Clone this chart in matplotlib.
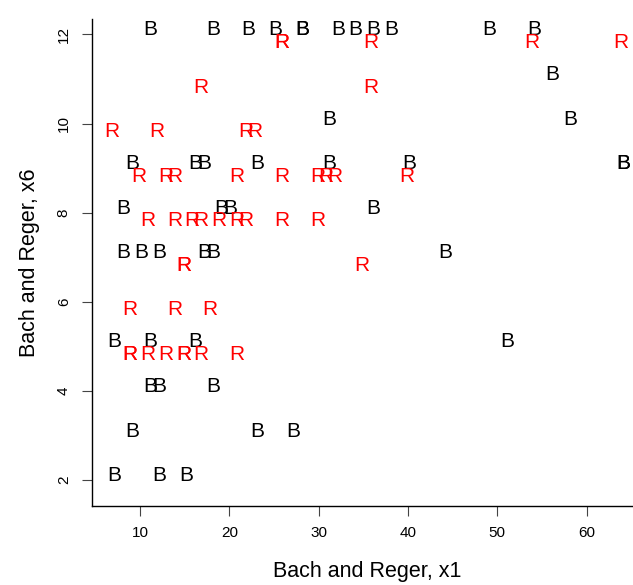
import matplotlib
matplotlib.use("Agg")
import matplotlib.pyplot as plt

# Bach pieces: x1 and x6 values
bach_x1 = [11, 18, 22, 25, 28, 28, 32, 34, 36, 38, 49, 54,
           56,
           31, 58,
           9, 16, 17, 23, 31, 40, 64, 64,
           8, 19, 20, 36,
           8, 10, 12, 17, 18, 44,
           7, 11, 16, 51,
           11, 12, 18,
           9, 23, 27,
           7, 12, 15]
bach_x6 = [12, 12, 12, 12, 12, 12, 12, 12, 12, 12, 12, 12,
           11,
           10, 10,
           9, 9, 9, 9, 9, 9, 9, 9,
           8, 8, 8, 8,
           7, 7, 7, 7, 7, 7,
           5, 5, 5, 5,
           4, 4, 4,
           3, 3, 3,
           2, 2, 2]

# Reger pieces: x1 and x6 values
reger_x1 = [26, 26, 36, 54, 64,
            17, 36,
            7, 12, 22, 23,
            10, 13, 14, 21, 26, 30, 31, 32, 40,
            11, 14, 16, 17, 19, 21, 22, 26, 30,
            15, 15, 35,
            9, 14, 18,
            9, 9, 11, 13, 15, 15, 17, 21]
reger_x6 = [12, 12, 12, 12, 12,
            11, 11,
            10, 10, 10, 10,
            9, 9, 9, 9, 9, 9, 9, 9, 9,
            8, 8, 8, 8, 8, 8, 8, 8, 8,
            7, 7, 7,
            6, 6, 6,
            5, 5, 5, 5, 5, 5, 5, 5]

x_ticks = [10, 20, 30, 40, 50, 60]
y_ticks = [2, 4, 6, 8, 10, 12]

plt.rcParams["font.family"] = ["Liberation Sans", "DejaVu Sans"]

W, H = 633, 585
fig = plt.figure(figsize=(W / 100, H / 100), dpi=100)
left, right, bottom, top = 91.7, 642.0, 505.5, 19.3
ax = fig.add_axes([left / W, 1 - bottom / H, (right - left) / W, (bottom - top) / H])

ax.set_xlim(4.59, 66.2)
ax.set_ylim(1.43, 12.34)

# Letters are nudged apart so the two groups stay readable where they coincide
for x, y in zip(bach_x1, bach_x6):
    ax.text(x + 0.15, y + 0.1, "B", color="black", fontsize=15,
            ha="center", va="center")
for x, y in zip(reger_x1, reger_x6):
    ax.text(x - 0.15, y - 0.18, "R", color="#ff0000", fontsize=15,
            ha="center", va="center")

for side in ("top", "right"):
    ax.spines[side].set_visible(False)
for side in ("left", "bottom"):
    ax.spines[side].set_linewidth(1.0)
    ax.spines[side].set_color("black")

ax.set_xticks(x_ticks)
ax.set_yticks(y_ticks)
ax.tick_params(axis="both", length=7, width=0.8, color="#444444",
               labelsize=11, pad=8)
for lab in ax.get_yticklabels():
    lab.set_rotation(90)
    lab.set_va("center")

ax.set_xlabel("Bach and Reger, x1", fontsize=15.5, labelpad=14)
ax.set_ylabel("Bach and Reger, x6", fontsize=15.5, labelpad=14)
ax.yaxis.set_label_coords(30 / (right - left) * -1 + 0, 0.5)
ax.yaxis.label.set_position((0, 0.5))
ax.yaxis.set_label_coords(-(left - 30) / (right - left), 0.5)
ax.xaxis.set_label_coords(0.5, -(572 - bottom) / (bottom - top))
ax.xaxis.label.set_va("center")
ax.yaxis.label.set_va("center")

fig.savefig("out.png", dpi=100)
